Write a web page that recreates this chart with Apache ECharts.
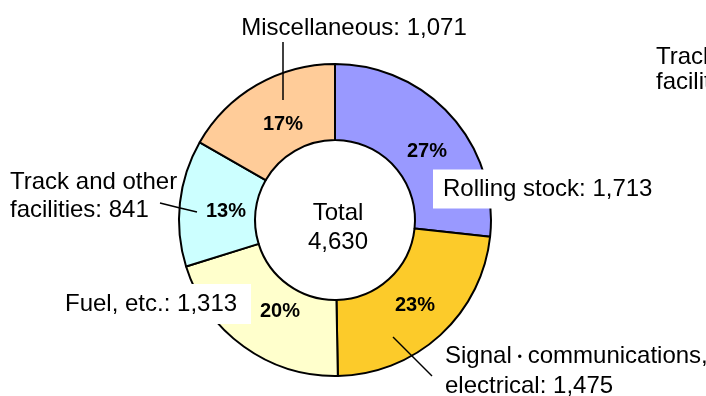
<!DOCTYPE html>
<html>
<head>
<meta charset="utf-8">
<script src="https://cdn.jsdelivr.net/npm/echarts@6/dist/echarts.min.js"></script>
<style>
  html, body { margin: 0; padding: 0; background: #fff; }
  #chart { width: 706px; height: 396px; }
</style>
</head>
<body>
<div id="chart"></div>
<script>
// Railway cost breakdown, clockwise from 12 o'clock
const categories = [
  'Rolling stock',
  'Signal・communications,\nelectrical',
  'Fuel, etc.',
  'Track and other\nfacilities',
  'Miscellaneous'
];
const values = [1713, 1475, 1313, 841, 1071];
const sliceColors = ['#9999FF', '#FCCB2A', '#FFFFCC', '#CCFFFF', '#FFCC99'];
const totalLabel = ['Total', '4,630'];
const strayLabel = ['Track and other', 'facilities'];

// Where the percentage labels sit inside the ring
const pctPos = [[427, 151], [415, 305], [280, 311], [226, 211], [283, 124]];

// Placement of the outer labels and their leader lines
const outerLabels = [
  { x: 433, y: 189, align: 'left', width: 212, lh: 19, pad: [10, 10, 10, 10], bg: '#fff' },
  { x: 445, y: 371, align: 'left', width: 300, lh: 30, line: [[393, 337], [412, 356], [432, 376]] },
  { x: 64, y: 304, align: 'left', width: 172, lh: 20, pad: [10, 14, 10, 1], bg: '#fff' },
  { x: 10, y: 196.5, align: 'left', width: 200, lh: 28.5, line: [[160, 203], [178, 207.5], [197, 212]] },
  { x: 354, y: 28, align: 'center', width: 300, lh: 28, line: [[283, 42], [283, 70], [283, 100]] }
];

const fmt = v => v.toLocaleString('en-US');
const FONT = '"Liberation Sans", Arial, sans-serif';

const pieData = categories.map((name, i) => ({
  name: name,
  value: values[i],
  itemStyle: { color: sliceColors[i] }
}));

const labelData = categories.map((name, i) => {
  const o = outerLabels[i];
  return {
    name: name,
    value: values[i],
    label: {
      width: o.width,
      lineHeight: o.lh,
      align: o.align,
      padding: o.pad || 0,
      backgroundColor: o.bg || 'transparent'
    },
    labelLine: { show: !!o.line }
  };
});

const chart = echarts.init(document.getElementById('chart'), null, { renderer: 'canvas' });
chart.setOption({
  backgroundColor: '#ffffff',
  animation: false,
  series: [
    {
      type: 'pie',
      center: [335, 220],
      radius: [80, 156],
      startAngle: 90,
      clockwise: true,
      percentPrecision: 0,
      silent: true,
      itemStyle: { borderColor: '#000', borderWidth: 2 },
      label: {
        show: true,
        position: 'inside',
        formatter: p => p.percent + '%',
        fontFamily: FONT,
        fontWeight: 'bold',
        fontSize: 20,
        color: '#000'
      },
      labelLine: { show: false },
      labelLayout: function (params) {
        const p = pctPos[params.dataIndex];
        return { x: p[0], y: p[1], align: 'center', verticalAlign: 'middle' };
      },
      data: pieData
    },
    {
      type: 'pie',
      center: [335, 220],
      radius: [80, 156],
      startAngle: 90,
      clockwise: true,
      silent: true,
      z: 5,
      itemStyle: { color: 'transparent', borderWidth: 0 },
      label: {
        show: true,
        position: 'outside',
        overflow: 'none',
        // the middle dot is drawn narrower than a full-width glyph
        formatter: p => p.name.replace('・', '{dot|・}') + ': ' + fmt(p.value),
        fontFamily: FONT,
        fontSize: 24,
        color: '#000',
        rich: {
          dot: { fontSize: 16, fontFamily: '"Noto Sans CJK JP", sans-serif', color: '#000' }
        }
      },
      labelLine: {
        show: true,
        lineStyle: { color: '#000', width: 1.5 }
      },
      labelLayout: function (params) {
        const o = outerLabels[params.dataIndex];
        const res = {
          x: o.x,
          y: o.y,
          align: o.align,
          verticalAlign: 'middle',
          hideOverlap: false,
          moveOverlap: false
        };
        if (o.line) res.labelLinePoints = o.line;
        return res;
      },
      data: labelData
    }
  ],
  graphic: [
    {
      type: 'text',
      z: 10,
      x: 338,
      y: 228,
      style: {
        text: totalLabel.join('\n'),
        align: 'center',
        verticalAlign: 'middle',
        font: '24px ' + FONT,
        lineHeight: 28.5,
        fill: '#000'
      }
    },
    {
      type: 'text',
      z: 10,
      x: 656,
      y: 70,
      style: {
        text: strayLabel.join('\n'),
        align: 'left',
        verticalAlign: 'middle',
        font: '24px ' + FONT,
        lineHeight: 25.5,
        fill: '#000'
      }
    }
  ]
});
</script>
</body>
</html>
